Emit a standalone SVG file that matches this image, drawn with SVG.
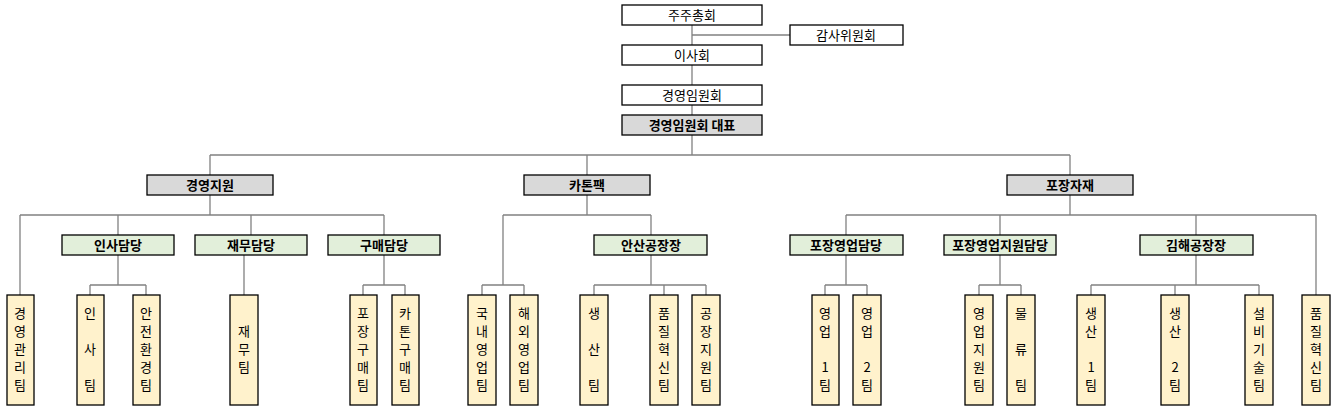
<svg xmlns="http://www.w3.org/2000/svg" width="1337" height="412" viewBox="0 0 1337 412">
<style>
.b{stroke:#000;stroke-width:1.3}
.w{fill:#fff}.g{fill:#d9d9d9}.gr{fill:#e2efda}.y{fill:#fff2cc}
text{font-family:"Noto Sans CJK KR","Noto Sans",sans-serif;font-size:13px;text-anchor:middle;fill:#000}
.bd{font-weight:bold}
#conn line{stroke:#808080;stroke-width:1.3}
</style>
<rect width="1337" height="412" fill="#fff"/>
<g id="conn">
<line x1="692" y1="25" x2="692" y2="45"/><line x1="692" y1="35" x2="790" y2="35"/>
<line x1="692" y1="65" x2="692" y2="85"/><line x1="692" y1="105" x2="692" y2="115"/>
<line x1="692" y1="135" x2="692" y2="155"/><line x1="210" y1="155" x2="1070" y2="155"/>
<line x1="210" y1="155" x2="210" y2="175"/><line x1="587" y1="155" x2="587" y2="175"/><line x1="1070" y1="155" x2="1070" y2="175"/>
<line x1="210" y1="195" x2="210" y2="215"/><line x1="20" y1="215" x2="384" y2="215"/>
<line x1="20" y1="215" x2="20" y2="295"/><line x1="118" y1="215" x2="118" y2="235"/><line x1="251" y1="215" x2="251" y2="235"/><line x1="384" y1="215" x2="384" y2="235"/>
<line x1="118" y1="255" x2="118" y2="285"/><line x1="90" y1="285" x2="146" y2="285"/><line x1="90" y1="285" x2="90" y2="295"/><line x1="146" y1="285" x2="146" y2="295"/>
<line x1="244" y1="255" x2="244" y2="295"/>
<line x1="384" y1="255" x2="384" y2="285"/><line x1="363" y1="285" x2="405" y2="285"/><line x1="363" y1="285" x2="363" y2="295"/><line x1="405" y1="285" x2="405" y2="295"/>
<line x1="587" y1="195" x2="587" y2="215"/><line x1="503" y1="215" x2="651" y2="215"/>
<line x1="503" y1="215" x2="503" y2="285"/><line x1="482" y1="285" x2="524" y2="285"/><line x1="482" y1="285" x2="482" y2="295"/><line x1="524" y1="285" x2="524" y2="295"/>
<line x1="651" y1="215" x2="651" y2="235"/><line x1="651" y1="255" x2="651" y2="285"/>
<line x1="594" y1="285" x2="706" y2="285"/><line x1="594" y1="285" x2="594" y2="295"/><line x1="664" y1="285" x2="664" y2="295"/><line x1="706" y1="285" x2="706" y2="295"/>
<line x1="1070" y1="195" x2="1070" y2="215"/><line x1="846" y1="215" x2="1316" y2="215"/>
<line x1="846" y1="215" x2="846" y2="235"/><line x1="1000" y1="215" x2="1000" y2="235"/><line x1="1196" y1="215" x2="1196" y2="235"/><line x1="1316" y1="215" x2="1316" y2="295"/>
<line x1="846" y1="255" x2="846" y2="285"/><line x1="825" y1="285" x2="867" y2="285"/><line x1="825" y1="285" x2="825" y2="295"/><line x1="867" y1="285" x2="867" y2="295"/>
<line x1="1000" y1="255" x2="1000" y2="285"/><line x1="979" y1="285" x2="1021" y2="285"/><line x1="979" y1="285" x2="979" y2="295"/><line x1="1021" y1="285" x2="1021" y2="295"/>
<line x1="1196" y1="255" x2="1196" y2="285"/><line x1="1091" y1="285" x2="1259" y2="285"/><line x1="1091" y1="285" x2="1091" y2="295"/><line x1="1175" y1="285" x2="1175" y2="295"/><line x1="1259" y1="285" x2="1259" y2="295"/>
</g>
<g id="n1"><rect class="b w" x="622" y="5" width="140" height="20"/><text x="692" y="20">주주총회</text></g>
<g id="n2"><rect class="b w" x="790" y="25" width="113" height="20"/><text x="846" y="40">감사위원회</text></g>
<g id="n3"><rect class="b w" x="622" y="45" width="140" height="20"/><text x="692" y="60">이사회</text></g>
<g id="n4"><rect class="b w" x="622" y="85" width="140" height="20"/><text x="692" y="100">경영임원회</text></g>
<g id="n5"><rect class="b g" x="622" y="115" width="140" height="20"/><text class="bd" x="692" y="130">경영임원회 대표</text></g>
<g id="d1"><rect class="b g" x="147" y="175" width="126" height="20"/><text class="bd" x="210" y="190">경영지원</text></g>
<g id="d2"><rect class="b g" x="524" y="175" width="126" height="20"/><text class="bd" x="587" y="190">카톤팩</text></g>
<g id="d3"><rect class="b g" x="1007" y="175" width="126" height="20"/><text class="bd" x="1070" y="190">포장자재</text></g>
<g id="m1"><rect class="b gr" x="62" y="235" width="112" height="20"/><text class="bd" x="118" y="250">인사담당</text></g>
<g id="m2"><rect class="b gr" x="195" y="235" width="112" height="20"/><text class="bd" x="251" y="250">재무담당</text></g>
<g id="m3"><rect class="b gr" x="328" y="235" width="112" height="20"/><text class="bd" x="384" y="250">구매담당</text></g>
<g id="m4"><rect class="b gr" x="594" y="235" width="113" height="20"/><text class="bd" x="651" y="250">안산공장장</text></g>
<g id="m5"><rect class="b gr" x="790" y="235" width="113" height="20"/><text class="bd" x="846" y="250">포장영업담당</text></g>
<g id="m6"><rect class="b gr" x="944" y="235" width="112" height="20"/><text class="bd" x="1000" y="250">포장영업지원담당</text></g>
<g id="m7"><rect class="b gr" x="1140" y="235" width="113" height="20"/><text class="bd" x="1196" y="250">김해공장장</text></g>
<g id="t1"><rect class="b y" x="7" y="295" width="27" height="110"/><text x="20"><tspan x="20" y="318">경</tspan><tspan x="20" y="336">영</tspan><tspan x="20" y="354">관</tspan><tspan x="20" y="372">리</tspan><tspan x="20" y="390">팀</tspan></text></g>
<g id="t2"><rect class="b y" x="77" y="295" width="27" height="110"/><text><tspan x="90" y="318">인</tspan><tspan x="90" y="354">사</tspan><tspan x="90" y="390">팀</tspan></text></g>
<g id="t3"><rect class="b y" x="133" y="295" width="27" height="110"/><text><tspan x="146" y="318">안</tspan><tspan x="146" y="336">전</tspan><tspan x="146" y="354">환</tspan><tspan x="146" y="372">경</tspan><tspan x="146" y="390">팀</tspan></text></g>
<g id="t4"><rect class="b y" x="230" y="295" width="28" height="110"/><text><tspan x="244" y="336">재</tspan><tspan x="244" y="354">무</tspan><tspan x="244" y="372">팀</tspan></text></g>
<g id="t5"><rect class="b y" x="350" y="295" width="27" height="110"/><text><tspan x="363" y="318">포</tspan><tspan x="363" y="336">장</tspan><tspan x="363" y="354">구</tspan><tspan x="363" y="372">매</tspan><tspan x="363" y="390">팀</tspan></text></g>
<g id="t6"><rect class="b y" x="392" y="295" width="27" height="110"/><text><tspan x="405" y="318">카</tspan><tspan x="405" y="336">톤</tspan><tspan x="405" y="354">구</tspan><tspan x="405" y="372">매</tspan><tspan x="405" y="390">팀</tspan></text></g>
<g id="t7"><rect class="b y" x="468" y="295" width="28" height="110"/><text><tspan x="482" y="318">국</tspan><tspan x="482" y="336">내</tspan><tspan x="482" y="354">영</tspan><tspan x="482" y="372">업</tspan><tspan x="482" y="390">팀</tspan></text></g>
<g id="t8"><rect class="b y" x="510" y="295" width="28" height="110"/><text><tspan x="524" y="318">해</tspan><tspan x="524" y="336">외</tspan><tspan x="524" y="354">영</tspan><tspan x="524" y="372">업</tspan><tspan x="524" y="390">팀</tspan></text></g>
<g id="t9"><rect class="b y" x="580" y="295" width="28" height="110"/><text><tspan x="594" y="318">생</tspan><tspan x="594" y="354">산</tspan><tspan x="594" y="390">팀</tspan></text></g>
<g id="t10"><rect class="b y" x="650" y="295" width="28" height="110"/><text><tspan x="664" y="318">품</tspan><tspan x="664" y="336">질</tspan><tspan x="664" y="354">혁</tspan><tspan x="664" y="372">신</tspan><tspan x="664" y="390">팀</tspan></text></g>
<g id="t11"><rect class="b y" x="692" y="295" width="28" height="110"/><text><tspan x="706" y="318">공</tspan><tspan x="706" y="336">장</tspan><tspan x="706" y="354">지</tspan><tspan x="706" y="372">원</tspan><tspan x="706" y="390">팀</tspan></text></g>
<g id="t12"><rect class="b y" x="812" y="295" width="27" height="110"/><text><tspan x="825" y="318">영</tspan><tspan x="825" y="336">업</tspan><tspan x="825" y="372">1</tspan><tspan x="825" y="390">팀</tspan></text></g>
<g id="t13"><rect class="b y" x="853" y="295" width="28" height="110"/><text><tspan x="867" y="318">영</tspan><tspan x="867" y="336">업</tspan><tspan x="867" y="372">2</tspan><tspan x="867" y="390">팀</tspan></text></g>
<g id="t14"><rect class="b y" x="965" y="295" width="28" height="110"/><text><tspan x="979" y="318">영</tspan><tspan x="979" y="336">업</tspan><tspan x="979" y="354">지</tspan><tspan x="979" y="372">원</tspan><tspan x="979" y="390">팀</tspan></text></g>
<g id="t15"><rect class="b y" x="1007" y="295" width="28" height="110"/><text><tspan x="1021" y="318">물</tspan><tspan x="1021" y="354">류</tspan><tspan x="1021" y="390">팀</tspan></text></g>
<g id="t16"><rect class="b y" x="1077" y="295" width="28" height="110"/><text><tspan x="1091" y="318">생</tspan><tspan x="1091" y="336">산</tspan><tspan x="1091" y="372">1</tspan><tspan x="1091" y="390">팀</tspan></text></g>
<g id="t17"><rect class="b y" x="1161" y="295" width="28" height="110"/><text><tspan x="1175" y="318">생</tspan><tspan x="1175" y="336">산</tspan><tspan x="1175" y="372">2</tspan><tspan x="1175" y="390">팀</tspan></text></g>
<g id="t18"><rect class="b y" x="1245" y="295" width="28" height="110"/><text><tspan x="1259" y="318">설</tspan><tspan x="1259" y="336">비</tspan><tspan x="1259" y="354">기</tspan><tspan x="1259" y="372">술</tspan><tspan x="1259" y="390">팀</tspan></text></g>
<g id="t19"><rect class="b y" x="1302" y="295" width="28" height="110"/><text><tspan x="1316" y="318">품</tspan><tspan x="1316" y="336">질</tspan><tspan x="1316" y="354">혁</tspan><tspan x="1316" y="372">신</tspan><tspan x="1316" y="390">팀</tspan></text></g>
</svg>
